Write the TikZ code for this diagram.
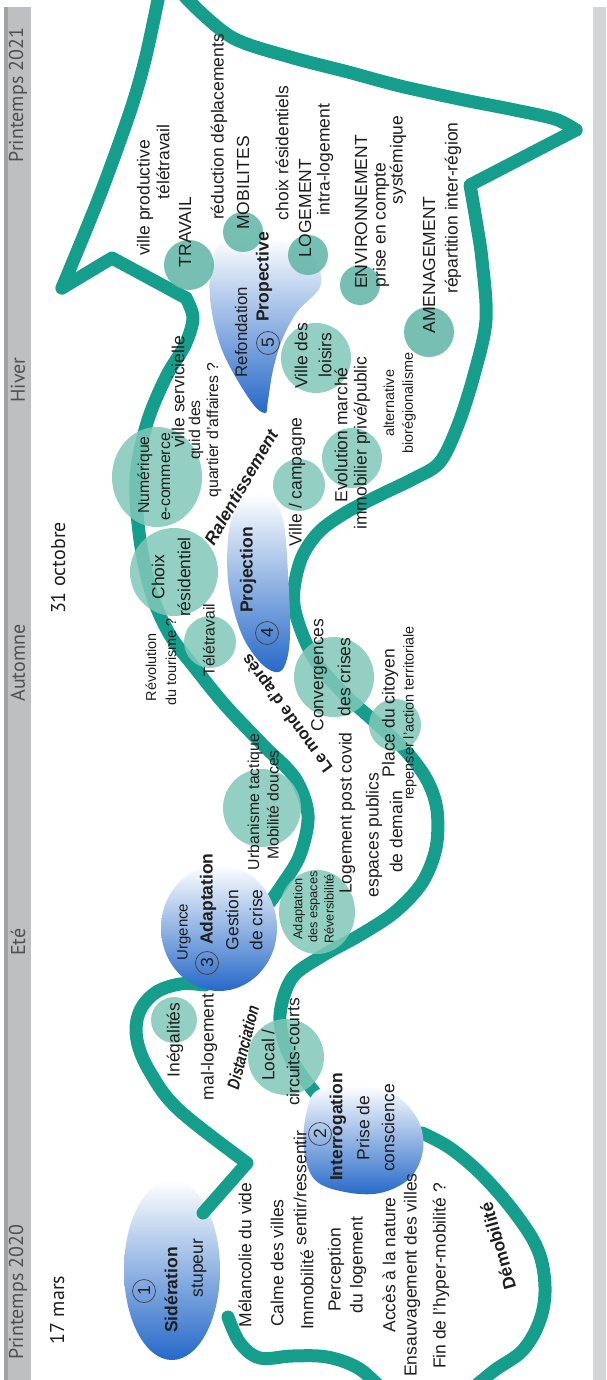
\documentclass[tikz,border=0pt]{standalone}
\usepackage{fontspec}
\setmainfont{Liberation Sans}
\newfontfamily\tlfont{PT Sans}
\definecolor{teal1}{RGB}{22,158,140}
\definecolor{bubL}{RGB}{128,200,184}
\definecolor{bubD}{RGB}{95,180,165}
\definecolor{blueD}{RGB}{38,105,200}
\definecolor{bandG}{RGB}{190,191,193}
\definecolor{bandD}{RGB}{160,161,164}
\definecolor{bandR}{RGB}{212,213,215}
\definecolor{tlText}{RGB}{80,80,82}
\definecolor{txt}{RGB}{30,30,30}
\begin{document}
\begin{tikzpicture}[x=0.5pt,y=-0.5pt,
  route/.style={draw=teal1, line width=6.5pt, line cap=round, line join=round},
  bubl/.style={fill=bubL, fill opacity=0.85},
  bubd/.style={fill=bubD, fill opacity=0.85},
  blueshape/.style={top color=white, bottom color=blueD},
  txtbase/.style={inner sep=0pt, text=txt, font=\fontsize{8.75}{10}\selectfont},
  lab/.style={txtbase, rotate=90},
  labb/.style={lab, font=\fontsize{8.75}{10}\selectfont\bfseries},
  labm/.style={lab, font=\fontsize{7.9}{9}\selectfont},
  labs/.style={lab, font=\fontsize{7.2}{8}\selectfont},
  labxs/.style={lab, font=\fontsize{6.4}{7}\selectfont},
  tl/.style={rotate=90, inner sep=0pt, text=tlText, font=\tlfont\fontsize{10}{11}\selectfont},
  circnum/.style={lab, draw=black!75, line width=0.35pt, circle, inner sep=0pt, minimum size=11.5pt},
]
\useasboundingbox (0,0) rectangle (606,1380);
\clip (0,0) rectangle (606,1380);
% bands
\fill[bandG] (4,7) rectangle (31,1380);
\fill[bandD] (4,7) rectangle (8,1380);
\fill[bandR] (593,7) rectangle (606,1380);

% Sideration bubble (below its strokes)
\shade[blueshape] (172,1270) ellipse [x radius=24pt, y radius=45pt];

% route
\draw[route] plot[smooth, tension=0.5] coordinates {(164,-30) (158,0) (145,60) (130,112) (100,195) (62,288)};
\draw[route] (62,288) -- (112,258) -- (186,298);
\draw[route] plot[smooth, tension=0.55] coordinates {(186,298) (193,318) (185,345) (166,377) (147,423) (136,478) (140,540) (152,595) (170,635) (195,668) (225,705) (263,745) (295,778) (308,815) (300,855) (282,885) (270,902)};
\draw[route] plot[smooth, tension=0.6] coordinates {(205,985) (180,984) (155,993) (139,1013) (137,1040) (150,1072) (179,1110) (247,1163)} -- (203,1213);
\draw[route] plot[smooth, tension=0.6] coordinates {(228,1317) (240,1343) (260,1358) (292,1356) (327,1357) (358,1368) (385,1390) (425,1412) (465,1393) (495,1370) (523,1350) (540,1320) (545,1287) (538,1250) (515,1213) (482,1175) (450,1148) (422,1133)};
\draw[route] plot[smooth, tension=0.55] coordinates {(328,1108) (305,1080) (287,1050) (280,1015) (292,978) (322,956) (360,935) (395,912) (422,883) (436,848) (437,810) (427,780) (405,750) (375,722) (340,690) (312,655) (294,605) (300,562) (318,533) (345,513) (380,495) (415,478) (440,462) (458,425) (474,375) (486,320) (482,260) (476,220) (470,185)} -- (576,130);
\draw[route] plot[smooth, tension=0.5] coordinates {(576,130) (555,119) (510,109) (464,100) (400,86) (348,72) (290,57) (233,38) (190,2) (164,-30)};

% blue shapes
\shade[blueshape] (219,928) ellipse [x radius=29pt, y radius=31.5pt];
\shade[blueshape] plot[smooth cycle, tension=0.6] coordinates {(318,1090) (360,1086) (395,1095) (418,1120) (423,1150) (410,1178) (380,1193) (345,1192) (315,1180) (304,1150) (306,1115)};
\shade[blueshape] plot[smooth cycle, tension=0.6] coordinates {(245,498) (270,497) (283,520) (288,573) (290,635) (285,665) (275,672) (258,660) (240,630) (228,580) (230,525)};
\shade[blueshape] plot[smooth cycle, tension=0.6] coordinates {(213,257) (227,240) (265,238) (300,248) (317,263) (320,287) (297,312) (282,340) (273,370) (268,400) (265,413) (250,400) (222,350) (210,298)};

% teal bubbles
\fill[bubl] (174,1020) circle [radius=11.5pt];
\fill[bubl] (286,1057) circle [radius=19pt];
\fill[bubl] (317,912) ellipse [x radius=19pt, y radius=21pt];
\fill[bubl] (262,808) circle [radius=19.5pt];
\fill[bubl] (210,642) circle [radius=13pt];
\fill[bubl] (174,572) circle [radius=22pt];
\fill[bubl] (334,677) circle [radius=20pt];
\fill[bubl] (395,725) circle [radius=13pt];
\fill[bubl] (157,477) ellipse [x radius=22.5pt, y radius=25pt];
\fill[bubl] (299,485) circle [radius=13pt];
\fill[bubl] (352,458) circle [radius=15pt];
\fill[bubl] (316,358) circle [radius=17.5pt];
\fill[bubd] (429,332) circle [radius=12.5pt];
\fill[bubd] (360,285) circle [radius=10pt];
\fill[bubd] (308,255) circle [radius=10pt];
\fill[bubd] (243,232) circle [radius=10pt];
\fill[bubd] (189,265) circle [radius=12.5pt];

% timeline
\node[tl] (tA) at (18,1292) {Printemps 2020};
\node[tl] (tB) at (18,942) {Eté};
\node[tl] (tC) at (18,663) {Automne};
\node[tl] (tD) at (18,380) {Hiver};
\node[tl] (tE) at (18,95) {Printemps 2021};
\node[tl, text=txt] (d1) at (57,1310) {17 mars};
\node[tl, text=txt] (d2) at (58,568) {31 octobre};

% 1 Sideration
\node[circnum] (c1) at (144,1291) {1};
\node[labb] (sid) at (171,1290) {Sidération};
\node[lab] (stu) at (199,1268) {stupeur};
\node[lab] (m1) at (245,1255) {Mélancolie du vide};
\node[lab] (m2) at (277,1263) {Calme des villes};
\node[lab] (m3) at (307,1290) {Immobilité};
\node[lab] (m4) at (300,1188) {sentir/ressentir};
\node[lab] (m5) at (336,1270) {Perception};
\node[lab] (m6) at (358,1265) {du logement};
\node[lab] (m7) at (389,1265) {Accès à la nature};
\node[lab] (m8) at (412,1275) {Ensauvagement des villes};
\node[lab] (m9) at (441,1276) {Fin de l'hyper-mobilité ?};
\node[txtbase, rotate=106, font=\fontsize{8.75}{10}\selectfont\bfseries] (demo) at (498,1246) {Démobilité};

% 2 Interrogation
\node[circnum] (c2) at (320,1134) {2};
\node[labb] (int) at (338,1127) {Interrogation};
\node[lab] (pri) at (363,1128) {Prise de};
\node[lab] (con) at (388,1128) {conscience};
\node[lab] (ine) at (175,1040) {Inégalités};
\node[lab] (mal) at (209,1047) {mal-logement};
\node[txtbase, rotate=76] (dist) at (243,1047) {\scalebox{0.78}[1]{\bfseries\itshape Distanciation}};
\node[lab] (loc1) at (268,1055) {Local /};
\node[lab] (loc2) at (293,1052) {circuits-courts};

% 3 Adaptation
\node[lab, font=\fontsize{7.5}{8}\selectfont] (urg) at (184,932) {Urgence};
\node[circnum] (c3) at (207,963) {3};
\node[labb] (ada) at (208,899) {Adaptation};
\node[lab] (ges) at (232,920) {Gestion};
\node[lab] (dcr) at (256,920) {de crise};
\node[labxs] (ae1) at (299,909) {Adaptation};
\node[labxs] (ae2) at (314,907) {des espaces};
\node[labxs] (ae3) at (329,909) {Réversibilité};
\node[labm] (urb1) at (255,802) {Urbanisme tactique};
\node[labm] (urb2) at (273,805) {Mobilité douces};
\node[lab] (lpc) at (347,813) {Logement post covid};
\node[lab] (esp) at (374,835) {espaces publics};
\node[lab] (ddm) at (396,832) {de demain};
\node[lab] (pdc) at (390,713) {Place du citoyen};
\node[labs] (rep) at (410,713) {repenser l'action territoriale};
\node[txtbase, rotate=126, font=\fontsize{8.3}{10}\selectfont\bfseries] (lmd) at (288,713) {Le monde d'après};
\node[lab] (cv1) at (319,675) {Convergences};
\node[lab] (cv2) at (344,677) {des crises};

% 4 Projection
\node[labm] (tel) at (209,640) {Télétravail};
\node[labs] (rev1) at (151,667) {Révolution};
\node[labs] (rev2) at (171,662) {du tourisme ?};
\node[lab] (ch1) at (158,577) {Choix};
\node[lab] (ch2) at (184,577) {résidentiel};
\node[labb] (pro) at (248,570) {Projection};
\node[circnum] (c4) at (267,633) {4};
\node[labm] (nu1) at (145,475) {Numérique};
\node[labm] (nu2) at (166,477) {e-commerce};
\node[lab] (vs) at (178,392) {ville servicielle};
\node[labm] (qd) at (196,430) {quid des};
\node[labm] (qa) at (214,430) {quartier d'affaires ?};
\node[txtbase, rotate=60, font=\fontsize{8.75}{10}\selectfont\bfseries\itshape] (ral) at (241,487) {Ralentissement};
\node[lab] (vc) at (297,482) {Ville / campagne};
\node[lab] (ev1) at (341,435) {Evolution marché};
\node[lab] (ev2) at (362,443) {immobilier privé/public};
\node[labs] (al1) at (389,403) {alternative};
\node[labs] (al2) at (409,403) {biorégionalisme};
\node[lab] (vl1) at (301,356) {Ville des};
\node[lab] (vl2) at (325,355) {loisirs};

% 5 Prospective
\node[lab, font=\fontsize{8.4}{10}\selectfont] (ref) at (241,332) {Refondation};
\node[circnum] (c5) at (268,343) {5};
\node[labb] (psp) at (264,277) {Propective};
\node[lab] (am1) at (429,265) {AMENAGEMENT};
\node[lab] (am2) at (453,208) {répartition inter-région};
\node[lab] (en1) at (361,212) {ENVIRONNEMENT};
\node[lab] (en2) at (381,225) {prise en compte};
\node[lab] (en3) at (398,160) {systémique};
\node[lab] (lo1) at (305,208) {LOGEMENT};
\node[lab] (lo2) at (325,160) {intra-logement};
\node[lab] (lo3) at (282,153) {choix résidentiels};
\node[lab] (mo1) at (243,183) {MOBILITES};
\node[lab] (mo2) at (219,127) {réduction déplacements};
\node[lab] (tr1) at (185,232) {TRAVAIL};
\node[lab] (tr2) at (145,198) {ville productive};
\node[lab] (tr3) at (163,162) {télétravail};
\end{tikzpicture}
\end{document}
